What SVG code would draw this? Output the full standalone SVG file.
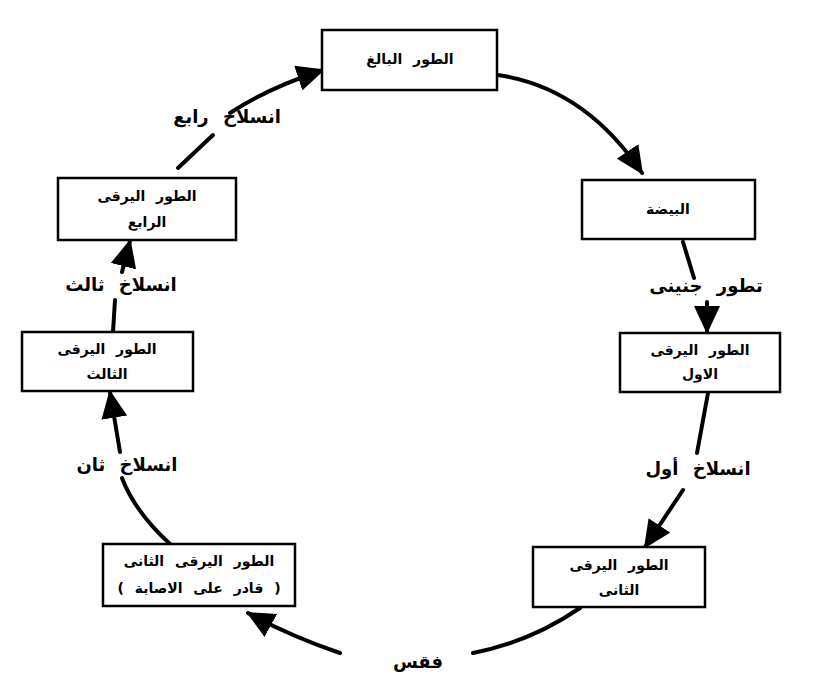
<svg xmlns="http://www.w3.org/2000/svg" width="814" height="697" viewBox="0 0 814 697">
<style>
.box{fill:#fff;stroke:#000;stroke-width:2.5}
.t{font-family:"DejaVu Sans","Noto Sans",sans-serif;font-size:14px;font-weight:bold;word-spacing:6px;text-anchor:middle;fill:#000}
.lb{font-family:"DejaVu Sans","Noto Sans",sans-serif;font-size:18px;font-weight:bold;word-spacing:8px;text-anchor:middle;fill:#000}
.c{fill:none;stroke:#000;stroke-width:4;stroke-linecap:round}
</style>
<defs>
<marker id="ah" markerUnits="userSpaceOnUse" markerWidth="28" markerHeight="26" refX="26" refY="13" orient="auto">
<path d="M0,0 L28,13 L0,26 z" fill="#000"/>
</marker>
</defs>
<rect width="814" height="697" fill="#fff"/>
<g id="connectors">
<path class="c" d="M498,75 Q585,88 642,173" marker-end="url(#ah)"/>
<path class="c" d="M683,242 L694,278"/>
<path class="c" d="M707,302 L707,332" marker-end="url(#ah)"/>
<path class="c" d="M708,393 L697,453"/>
<path class="c" d="M683,490 L645,547" marker-end="url(#ah)"/>
<path class="c" d="M580,608 Q530,642 473,653"/>
<path class="c" d="M340,653 Q290,636 248,613" marker-end="url(#ah)"/>
<path class="c" d="M170,544 Q135,512 122,478"/>
<path class="c" d="M120,452 L110,392" marker-end="url(#ah)"/>
<path class="c" d="M113,332 L115,300"/>
<path class="c" d="M122,272 L130,241" marker-end="url(#ah)"/>
<path class="c" d="M178,168 L213,135"/>
<path class="c" d="M230,113 Q268,88 323,70" marker-end="url(#ah)"/>
</g>
<g id="labels">
<text class="lb" x="227" y="123" direction="rtl">انسلاخ رابع</text>
<text class="lb" x="121" y="291" direction="rtl">انسلاخ ثالث</text>
<text class="lb" x="127" y="471" direction="rtl">انسلاخ ثان</text>
<text class="lb" x="706" y="292" direction="rtl">تطور جنينى</text>
<text class="lb" x="698" y="475" direction="rtl">انسلاخ أول</text>
<text class="lb" x="418" y="668" direction="rtl">فقس</text>
</g>
<g id="adult">
<rect class="box" x="322" y="30" width="175" height="60"/>
<text class="t" x="410" y="64" direction="rtl">الطور البالغ</text>
</g>
<g id="egg">
<rect class="box" x="582" y="180" width="173" height="59"/>
<text class="t" x="668" y="214" direction="rtl">البيضة</text>
</g>
<g id="larva1">
<rect class="box" x="620" y="333" width="160" height="59"/>
<text class="t" x="700" y="355" direction="rtl">الطور اليرقى</text>
<text class="t" x="700" y="379" direction="rtl">الاول</text>
</g>
<g id="larva2">
<rect class="box" x="533" y="547" width="172" height="60"/>
<text class="t" x="619" y="570" direction="rtl">الطور اليرقى</text>
<text class="t" x="619" y="595" direction="rtl">الثانى</text>
</g>
<g id="larva2-infective">
<rect class="box" x="103" y="544" width="192" height="62"/>
<text class="t" x="199" y="566" direction="rtl">الطور اليرقى الثانى</text>
<text class="t" x="199" y="593" direction="rtl">( قادر على الاصابة )</text>
</g>
<g id="larva3">
<rect class="box" x="22" y="332" width="171" height="59"/>
<text class="t" x="107" y="354" direction="rtl">الطور اليرقى</text>
<text class="t" x="107" y="379" direction="rtl">الثالث</text>
</g>
<g id="larva4">
<rect class="box" x="58" y="178" width="178" height="62"/>
<text class="t" x="147" y="201" direction="rtl">الطور اليرقى</text>
<text class="t" x="147" y="227" direction="rtl">الرابع</text>
</g>
</svg>
